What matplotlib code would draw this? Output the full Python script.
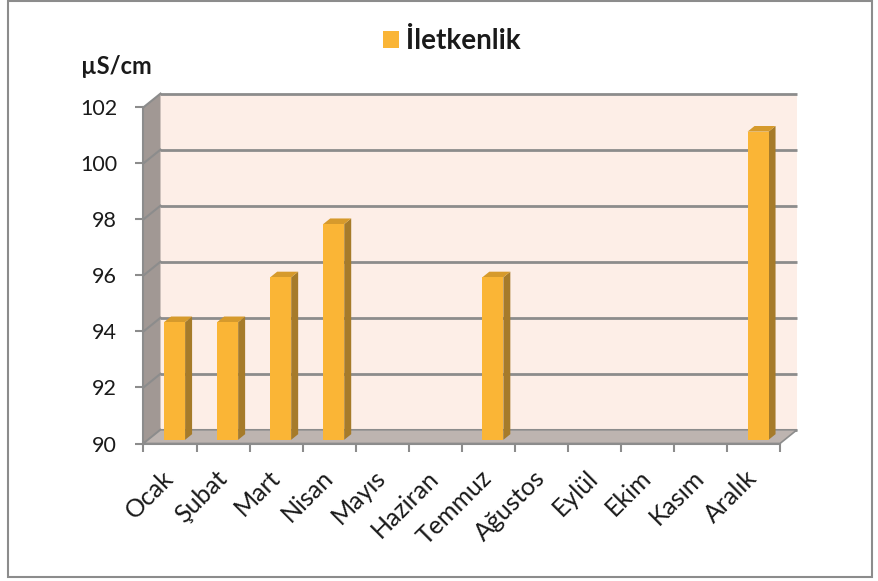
import numpy as np
import matplotlib
matplotlib.use('Agg')
import matplotlib.pyplot as plt
from matplotlib.patches import Polygon, Rectangle, Patch
from matplotlib import transforms

# ---- data ----
months = ['Ocak', 'Şubat', 'Mart', 'Nisan', 'Mayıs', 'Haziran', 'Temmuz',
          'Ağustos', 'Eylül', 'Ekim', 'Kasım', 'Aralık']
values = [94.2, 94.2, 95.8, 97.7, np.nan, np.nan, 95.8,
          np.nan, np.nan, np.nan, np.nan, 101.0]
yticks = [90, 92, 94, 96, 98, 100, 102]
series_name = 'İletkenlik'
unit_label = 'µS/cm'

plt.rcParams['font.family'] = ['Lato', 'DejaVu Sans']

W_PX, H_PX = 879, 581
fig = plt.figure(figsize=(W_PX / 100, H_PX / 100), dpi=100)
fig.patch.set_facecolor('white')

# front plot frame in pixels
x0, x1 = 143.5, 780.0
y0, y1 = 443.5, 107.3
ax = fig.add_axes([x0 / W_PX, 1 - y0 / H_PX, (x1 - x0) / W_PX, (y0 - y1) / H_PX])
ymin, ymax = yticks[0], yticks[-1]
n = len(months)
ax.set_xlim(0, n)
ax.set_ylim(ymin, ymax)
ax.patch.set_visible(False)

# 3D depth offsets expressed in data units
DX = 17.0 / ((x1 - x0) / n)
DY = 13.7 / ((y0 - y1) / (ymax - ymin))

grid_c = '#8C8C8C'
wall = Polygon([(DX, ymin + DY), (n + DX, ymin + DY), (n + DX, ymax + DY), (DX, ymax + DY)],
               closed=True, fc='#FDEEE7', ec='none', zorder=0.5, clip_on=False)
side = Polygon([(0, ymin), (DX, ymin + DY), (DX, ymax + DY), (0, ymax)],
               closed=True, fc='#A19894', ec='none', zorder=0.6, clip_on=False)
floor = Polygon([(0, ymin), (n, ymin), (n + DX, ymin + DY), (DX, ymin + DY)],
                closed=True, fc='#BDB4B0', ec=grid_c, lw=1.2, zorder=0.9, clip_on=False)
for p in (wall, side, floor):
    ax.add_patch(p)

for t in yticks:
    ax.plot([DX, n + DX], [t + DY, t + DY], color=grid_c, lw=2, zorder=0.8,
            clip_on=False, solid_capstyle='butt')
    ax.plot([0, DX], [t, t + DY], color=grid_c, lw=1.5, zorder=0.8, clip_on=False)

# bars
bw = 0.396
df, db = 0.27, 0.68
ox, oy = (db - df) * DX, (db - df) * DY
for i, v in enumerate(values):
    if np.isnan(v):
        continue
    xl = i + (1 - bw) / 2 + df * DX
    xr = xl + bw
    yb = ymin + df * DY
    yt = v + df * DY
    ax.add_patch(Polygon([(xr, yb), (xr + ox, yb + oy), (xr + ox, yt + oy), (xr, yt)],
                         closed=True, fc='#A67B2A', ec='none', zorder=3, clip_on=False))
    ax.add_patch(Polygon([(xl, yt), (xr, yt), (xr + ox, yt + oy), (xl + ox, yt + oy)],
                         closed=True, fc='#D69A2C', ec='none', zorder=3, clip_on=False))
    ax.add_patch(Rectangle((xl, yb), bw, yt - yb, fc='#FAB536', ec='none',
                           zorder=3.1, clip_on=False))

# spines
for s in ['top', 'right']:
    ax.spines[s].set_visible(False)
for s in ['left', 'bottom']:
    ax.spines[s].set_color(grid_c)
    ax.spines[s].set_linewidth(1.5)
    ax.spines[s].set_zorder(1.0)

# y ticks
ax.set_yticks(yticks)
ax.set_yticklabels([str(t) for t in yticks])
ax.tick_params(axis='y', length=6, width=1.5, color=grid_c, pad=13,
               labelsize=15.5, labelcolor='#1a1a1a')

# x ticks: boundaries (major) + labels at centers (minor)
ax.set_xticks(np.arange(n + 1))
ax.set_xticklabels([])
ax.tick_params(axis='x', which='major', length=5.5, width=1.5, color=grid_c)
ax.set_xticks(np.arange(n) + 0.5, minor=True)
ax.set_xticklabels(months, minor=True, rotation=45, ha='right', va='center',
                   rotation_mode='anchor')
ax.tick_params(axis='x', which='minor', length=0, pad=22, labelsize=18,
               labelcolor='#1a1a1a')
off = transforms.ScaledTranslation(0 / 100, 0, fig.dpi_scale_trans)
for lab in ax.get_xticklabels(minor=True):
    lab.set_transform(lab.get_transform() + off)

# legend
fig.legend(handles=[Patch(facecolor='#FAB536', edgecolor='none', label=series_name)],
           loc='center', bbox_to_anchor=(452 / W_PX, 1 - 41 / H_PX), frameon=False,
           prop={'weight': 'bold', 'size': 20}, handlelength=0.58, handleheight=0.58,
           handletextpad=0.25, labelcolor='#1a1a1a')

# unit label
fig.text(81 / W_PX, 1 - 66 / H_PX, unit_label, ha='left', va='center',
         fontsize=17, fontweight='bold', color='#1a1a1a')

# chart border
fig.add_artist(Rectangle((8 / W_PX, 1 - 577 / H_PX), (872 - 8) / W_PX, (577 - 1) / H_PX,
                         transform=fig.transFigure, fill=False, ec='#8C8C8C', lw=1.5))

fig.savefig('out.png', dpi=100)
